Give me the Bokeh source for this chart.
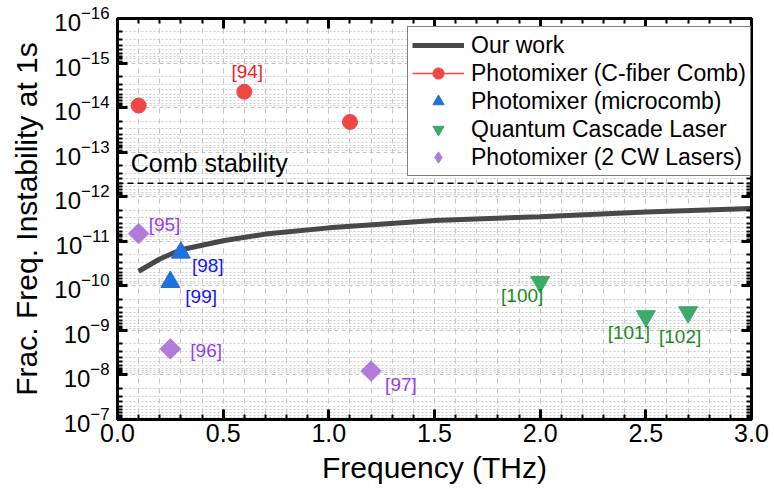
import math
from bokeh.plotting import figure
from bokeh.models import (Range1d, LinearAxis, LogAxis, Span, Legend, LegendItem,
                          ColumnDataSource, SingleIntervalTicker, FixedTicker,
                          NumeralTickFormatter, LogTickFormatter, Label)
from bokeh.embed import file_html
from bokeh.resources import INLINE
from bokeh.core.properties import value

# ---------------- data ----------------
work_f = [0.1, 0.2, 0.3, 0.5, 0.7, 1.0, 1.5, 2.0, 2.5, 3.0]
work_y = [4.7e-11, 2.5e-11, 1.55e-11, 9.7e-12, 6.9e-12, 5.0e-12, 3.4e-12, 2.8e-12, 2.2e-12, 1.84e-12]

cfiber_f = [0.1, 0.6, 1.1]
cfiber_y = [9.0e-15, 4.4e-15, 2.1e-14]
cfiber_ref = ["", "[94]", ""]

micro_f = [0.3, 0.25]
micro_y = [1.8e-11, 8.2e-11]
micro_ref = ["[98]", "[99]"]

qcl_f = [2.0, 2.5, 2.7]
qcl_y = [8.2e-11, 4.8e-10, 3.9e-10]
qcl_ref = ["[100]", "[101]", "[102]"]

cw_f = [0.1, 0.25, 1.2]
cw_y = [6.7e-12, 2.6e-9, 8.2e-9]
cw_ref = ["[95]", "[96]", "[97]"]

comb_level = 5e-13
comb_text = "Comb stability"

y_decades = list(range(-16, -6))
x_label = "Frequency (THz)"
y_label = "Frac. Freq. Instability at 1s"

# ---------------- styling ----------------
FONT = "Liberation Sans"
RED, BLUE, GREEN, PURPLE = "#EF4646", "#1F70E0", "#3AAB6A", "#B07CDC"
RED_T, BLUE_T, GREEN_T, PURPLE_T = "#EE1C25", "#1515FF", "#1B8A1B", "#9B3BF0"
NAN = float("nan")

major_y = [10.0 ** e for e in y_decades]
minor_y = [m * 10.0 ** e for e in y_decades[:-1] for m in range(2, 10)]

p = figure(width=770, height=489, output_backend="svg", toolbar_location=None,
           x_range=Range1d(0, 3), y_range=Range1d(1e-7, 1e-16),
           y_axis_type="log",
           min_border_left=117, min_border_right=19, min_border_top=18, min_border_bottom=70)
p.background_fill_color = "white"
p.border_fill_color = "white"
p.outline_line_color = "black"
p.outline_line_width = 3

xticker = SingleIntervalTicker(interval=0.5, num_minor_ticks=5)
yticker = FixedTicker(ticks=major_y, minor_ticks=minor_y)

xa = p.xaxis[0]
xa.ticker = xticker
xa.formatter = NumeralTickFormatter(format="0.0")
xa.axis_label = x_label
ya = p.yaxis[0]
ya.ticker = yticker
ya.formatter = LogTickFormatter()
ya.axis_label = y_label

for ax, fs in ((xa, "25px"), (ya, "24px")):
    ax.axis_line_width = 3
    ax.major_tick_in = 10
    ax.major_tick_out = 0
    ax.minor_tick_in = 5
    ax.minor_tick_out = 0
    ax.major_tick_line_width = 3
    ax.minor_tick_line_width = 2
    ax.major_label_text_font = FONT
    ax.major_label_text_font_size = fs
    ax.major_label_text_color = "black"
    ax.axis_label_text_font = FONT
    ax.axis_label_text_font_size = "30px"
    ax.axis_label_text_font_style = "normal"
    ax.axis_label_text_color = "black"
xa.major_label_standoff = 4
xa.axis_label_standoff = 6
ya.major_label_standoff = 8
ya.axis_label_standoff = 8

# top and right axes (ticks only)
top = LinearAxis(ticker=xticker)
right = LogAxis(ticker=yticker)
for ax in (top, right):
    ax.axis_line_width = 3
    ax.major_tick_in = 10
    ax.major_tick_out = 0
    ax.minor_tick_in = 5
    ax.minor_tick_out = 0
    ax.major_tick_line_width = 3
    ax.minor_tick_line_width = 2
    ax.major_label_text_font_size = "1px"
    ax.major_label_text_alpha = 0
    ax.major_label_standoff = 0
p.add_layout(top, "above")
p.add_layout(right, "right")

# grids
p.xgrid.ticker = xticker
p.xgrid.grid_line_color = "#c4c4c4"
p.xgrid.grid_line_dash = "5 5"
p.xgrid.minor_grid_line_color = "#c4c4c4"
p.xgrid.minor_grid_line_dash = "5 5"
p.ygrid.ticker = yticker
p.ygrid.grid_line_color = "#c4c4c4"
p.ygrid.grid_line_dash = "4 3"
p.ygrid.minor_grid_line_color = "#cccccc"
p.ygrid.minor_grid_line_dash = "2 2"

# comb stability
p.add_layout(Span(location=comb_level, dimension="width", line_color="black",
                  line_width=1.5, line_dash="6 4"))
p.add_layout(Label(x=0.063, y=comb_level, text=comb_text, y_offset=20,
                   text_font=FONT, text_font_size="25px", text_color="black",
                   text_baseline="alphabetic"))

# our work
r_work = p.line(work_f, work_y, line_color="#484848", line_width=5)

# markers
r_c = p.scatter(cfiber_f, cfiber_y, marker="circle", size=15, fill_color=RED, line_color=RED)
r_m = p.scatter(micro_f, micro_y, marker="triangle", size=19, fill_color=BLUE, line_color=BLUE)
r_q = p.scatter(qcl_f, qcl_y, marker="inverted_triangle", size=19, fill_color=GREEN, line_color=GREEN)
r_w = p.scatter(cw_f, cw_y, marker="square", angle=math.pi / 4, size=14.5,
                fill_color=PURPLE, line_color=PURPLE)

# legend-only proxies (no data drawn)
r_cl = p.line(x=[0.0], y=[NAN], line_color=RED, line_width=1.5)
r_wl = p.scatter(x=[0.0], y=[NAN], marker="diamond", size=15, fill_color=PURPLE, line_color=PURPLE)

def refs(xs, ys, txt, color, dx, dy, align):
    src = ColumnDataSource(dict(x=xs, y=ys, t=txt, dx=dx, dy=dy, a=align))
    p.text(x="x", y="y", text="t", x_offset="dx", y_offset="dy", text_align="a",
           source=src, text_font=value(FONT), text_font_size="19px",
           text_color=color, text_baseline="middle")

refs(cfiber_f, cfiber_y, cfiber_ref, RED_T, [0, 3, 0], [0, -20, 0], ["center"] * 3)
refs(micro_f, micro_y, micro_ref, BLUE_T, [11, 15], [13, 15], ["left"] * 2)
refs(cw_f, cw_y, cw_ref, PURPLE_T, [10, 20, 14], [-9, 2, 13], ["left"] * 3)
refs(qcl_f, qcl_y, qcl_ref, GREEN_T, [-18, -17, -8], [14, 16, 24], ["center"] * 3)

legend = Legend(items=[
    LegendItem(label="Our work", renderers=[r_work]),
    LegendItem(label="Photomixer (C-fiber Comb)", renderers=[r_cl, r_c]),
    LegendItem(label="Photomixer (microcomb)", renderers=[r_m]),
    LegendItem(label="Quantum Cascade Laser", renderers=[r_q]),
    LegendItem(label="Photomixer (2 CW Lasers)", renderers=[r_wl]),
], location=(290, 243))
legend.margin = 0
legend.padding = 4
legend.border_line_color = "black"
legend.border_line_width = 1.5
legend.background_fill_alpha = 1
legend.label_text_font = FONT
legend.label_text_font_size = "23px"
legend.label_text_color = "black"
legend.glyph_width = 52
legend.glyph_height = 28
legend.label_height = 28
legend.spacing = 0
legend.label_standoff = 7
p.add_layout(legend)

open("out.html", "w").write(file_html(p, INLINE))
